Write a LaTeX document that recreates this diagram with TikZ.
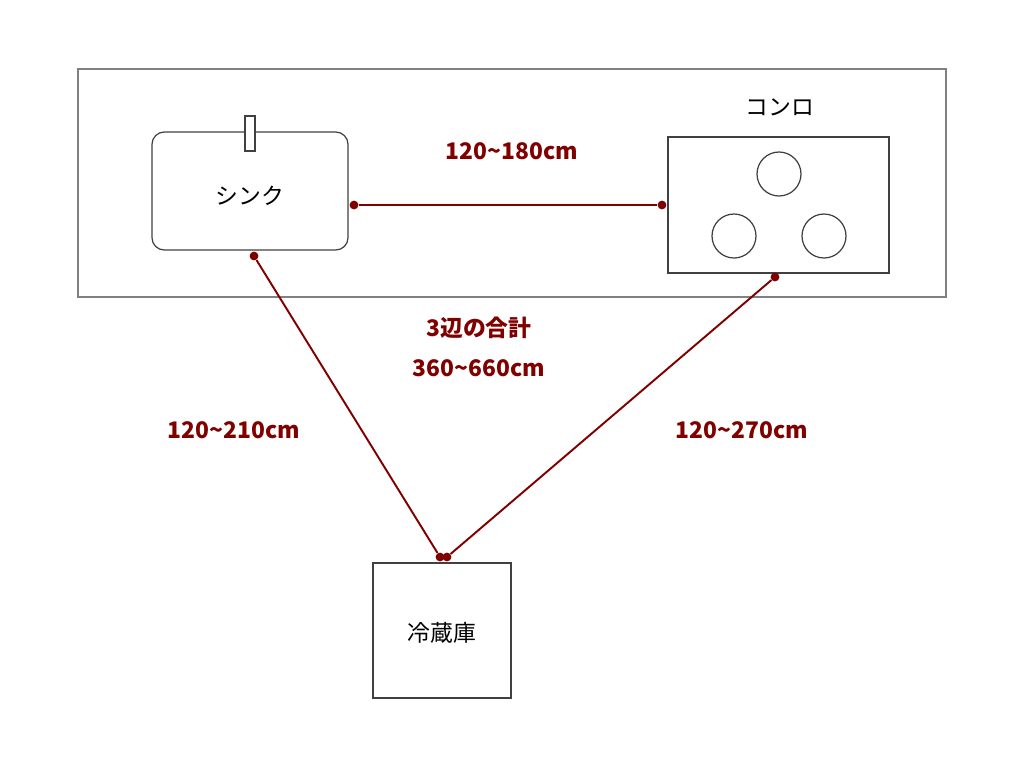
\documentclass[tikz,border=0pt]{standalone}
\usepackage{fontspec}
\setmainfont{Noto Sans CJK JP}
\begin{document}
\begin{tikzpicture}[x={(0.02cm,0)},y={(0,-0.02cm)},
  box/.style={draw=black!75,line width=0.7pt},
  conn/.style={draw=red!50!black,line width=1.1pt},
  dot/.style={circle,fill=red!50!black,inner sep=0pt,minimum size=5pt},
  lab/.style={text=red!50!black,font=\fontsize{13}{15}\selectfont\bfseries},
  txt/.style={font=\fontsize{13}{15}\selectfont}]
\useasboundingbox (0,0) rectangle (1024,768);
\draw[draw=black!50,line width=0.6pt] (78,69) rectangle (946,297);
\draw[box,rounded corners=7pt] (152,132) rectangle (348,250);
\draw[box,fill=white] (245,116) rectangle (255,151);
\node[txt] (sink) at (250,196) {シンク};
\draw[box] (668,137) rectangle (889,273);
\draw[box] (779,174) circle (22);
\draw[box] (734,236) circle (22);
\draw[box] (824,236) circle (22);
\node[txt] (stove) at (780,107) {コンロ};
\draw[box] (373,563) rectangle (511,698);
\node[txt] (fridge) at (442,633) {冷蔵庫};
\node[dot] (a1) at (354,205) {};
\node[dot] (a2) at (662,205) {};
\node[dot] (b1) at (254,256) {};
\node[dot] (b2) at (440,557) {};
\node[dot] (c1) at (447,557) {};
\node[dot] (c2) at (775,277) {};
\draw[conn] (a1) -- (a2);
\draw[conn] (b1) -- (b2);
\draw[conn] (c1) -- (c2);
\node[lab] (l1) at (512,151) {120\textasciitilde180cm};
\node[lab] (l2) at (479,328) {3辺の合計};
\node[lab] (l3) at (479,368) {360\textasciitilde660cm};
\node[lab] (l4) at (234,430) {120\textasciitilde210cm};
\node[lab] (l5) at (742,430) {120\textasciitilde270cm};
\end{tikzpicture}
\end{document}
